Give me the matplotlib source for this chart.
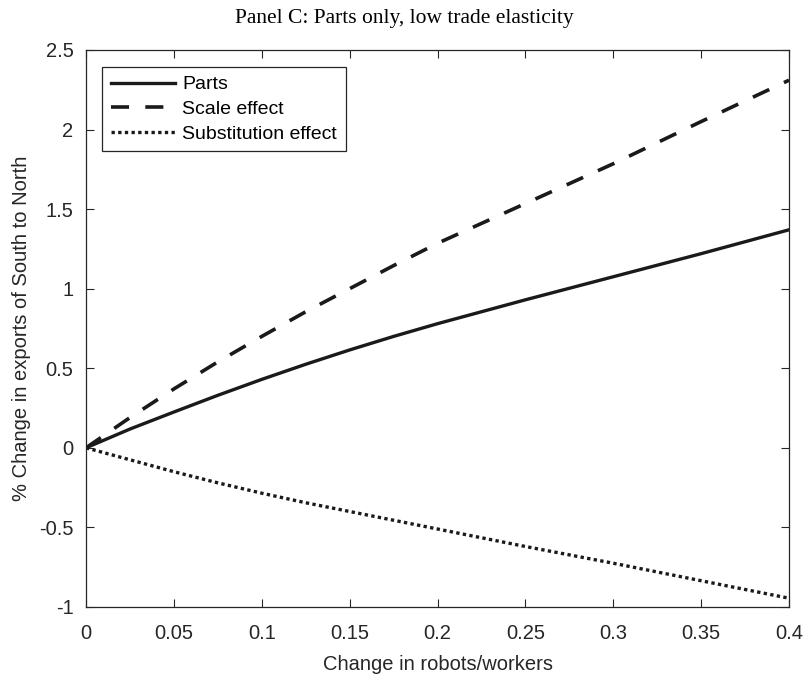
import numpy as np
import matplotlib
matplotlib.use('Agg')
import matplotlib.pyplot as plt

plt.rcParams['font.family'] = ['Liberation Sans', 'DejaVu Sans']
plt.rcParams['axes.unicode_minus'] = False

# values
robots = [0, 0.025, 0.05, 0.075, 0.1, 0.125, 0.15, 0.175, 0.2, 0.25, 0.3, 0.35, 0.4]
parts = [0, 0.118, 0.225, 0.33, 0.43, 0.525, 0.615, 0.70, 0.78, 0.93, 1.075, 1.22, 1.37]
scale = [0, 0.19, 0.37, 0.54, 0.70, 0.855, 1.00, 1.145, 1.285, 1.535, 1.785, 2.05, 2.31]
subst = [0, -0.075, -0.15, -0.22, -0.285, -0.345, -0.40, -0.455, -0.51, -0.62, -0.725, -0.835, -0.945]

xticks = [0, 0.05, 0.1, 0.15, 0.2, 0.25, 0.3, 0.35, 0.4]
xticklabels = ['0', '0.05', '0.1', '0.15', '0.2', '0.25', '0.3', '0.35', '0.4']
yticks = [-1, -0.5, 0, 0.5, 1, 1.5, 2, 2.5]
yticklabels = ['-1', '-0.5', '0', '0.5', '1', '1.5', '2', '2.5']

fig = plt.figure(figsize=(8.09, 6.76), dpi=100)
ax = fig.add_axes([0.1063, 0.1021, 0.869, 0.824])

ax.plot(robots, parts, color='#1a1a1a', lw=2.4, ls='-', label='Parts')
ax.plot(robots, scale, color='#1a1a1a', lw=2.6, ls=(0, (5, 4.5)), label='Scale effect')
ax.plot(robots, subst, color='#1a1a1a', lw=2.4, ls=(0, (1, 1)), label='Substitution effect')

ax.set_xlim(0, 0.4)
ax.set_ylim(-1, 2.5)
ax.set_xticks(xticks)
ax.set_xticklabels(xticklabels)
ax.set_yticks(yticks)
ax.set_yticklabels(yticklabels)
ax.tick_params(direction='in', length=6, width=0.8, labelsize=14.5, colors='#262626',
               top=True, right=True, pad=9)
ax.tick_params(axis='x', pad=12)
for s in ax.spines.values():
    s.set_color('#262626')
    s.set_linewidth(0.9)

ax.set_xlabel('Change in robots/workers', fontsize=14.5, color='#262626', labelpad=9)
ax.set_ylabel('% Change in exports of South to North', fontsize=14.5, color='#262626', labelpad=6)

fig.text(0.5, 0.973, 'Panel C: Parts only, low trade elasticity', ha='center', va='center',
         fontsize=15.5, family=['Liberation Serif', 'DejaVu Serif'])

leg = ax.legend(loc='upper left', bbox_to_anchor=(0.023, 0.9695), fontsize=14,
                handlelength=3.3, handletextpad=0.36, borderpad=0.45, labelspacing=0.36,
                fancybox=False, framealpha=1, edgecolor='#262626', borderaxespad=0)
leg.get_frame().set_linewidth(0.9)

fig.savefig('out.png', dpi=100)
